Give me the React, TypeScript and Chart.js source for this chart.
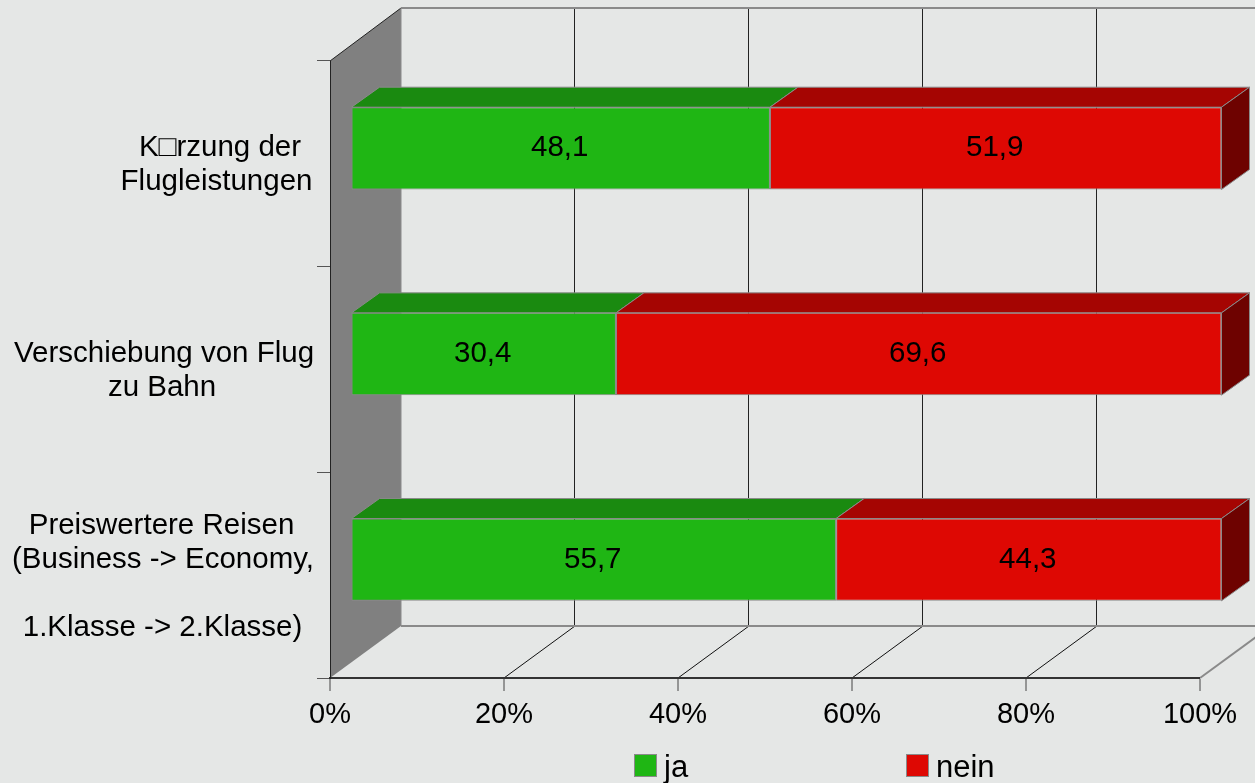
import React, { useEffect, useRef } from "react";
import { Chart, registerables } from "chart.js";

Chart.register(...registerables);

const categories: string[][] = [
  ["K\u25A1rzung der", "Flugleistungen"],
  ["Verschiebung von Flug", "zu Bahn"],
  ["Preiswertere Reisen", "(Business -> Economy,", "", "1.Klasse -> 2.Klasse)"],
];
const jaValues = [48.1, 30.4, 55.7];
const neinValues = [51.9, 69.6, 44.3];
const seriesNames = ["ja", "nein"];

const FONT = '"Liberation Sans", Arial, sans-serif';
const FS = 29.5;
const BG = "#E5E7E6";
const GREY = "#8A8A8A";
const FRONT = ["#1FB614", "#DE0803"];
const TOP = ["#1A8A10", "#A50502"];
const SIDE = "#6E0200";
const BACK = { x: 71, y: -53 };
const BAR_SHIFT = { x: 21.5, y: -15.5 };
const BAR_DEPTH = { x: 28, y: -20 };
const LABEL_X = [[220, 216.5], [164, 162], [161.5, 163, 162, 162.5]];
const LEGEND_X = [634, 906];

function line(ctx: CanvasRenderingContext2D, x1: number, y1: number, x2: number, y2: number, color: string, w: number) {
  ctx.strokeStyle = color;
  ctx.lineWidth = w;
  ctx.beginPath();
  ctx.moveTo(x1, y1);
  ctx.lineTo(x2, y2);
  ctx.stroke();
}

function poly(ctx: CanvasRenderingContext2D, pts: number[][], fill: string) {
  ctx.fillStyle = fill;
  ctx.strokeStyle = GREY;
  ctx.lineWidth = 1;
  ctx.beginPath();
  pts.forEach((p, i) => (i ? ctx.lineTo(p[0], p[1]) : ctx.moveTo(p[0], p[1])));
  ctx.closePath();
  ctx.fill();
  ctx.stroke();
}

const scene3d = {
  id: "scene3d",
  beforeDraw(chart: any) {
    const { ctx, chartArea: a, scales } = chart;
    ctx.save();
    ctx.fillStyle = BG;
    ctx.fillRect(0, 0, chart.width, chart.height);
    ctx.fillStyle = "#808080";
    ctx.beginPath();
    ctx.moveTo(a.left, a.top);
    ctx.lineTo(a.left + BACK.x, a.top + BACK.y);
    ctx.lineTo(a.left + BACK.x, a.bottom - 52);
    ctx.lineTo(a.left, a.bottom);
    ctx.closePath();
    ctx.fill();
    line(ctx, a.left, a.top, a.left + BACK.x, a.top + BACK.y, "#222", 1);
    for (const t of scales.x.ticks) {
      const x = scales.x.getPixelForValue(t.value);
      if (t.value > 0) {
        line(ctx, x + BACK.x - 0.5, a.top + BACK.y, x + BACK.x - 0.5, a.bottom - 52, "#222", 1);
        if (t.value < 100) line(ctx, x, a.bottom, x + BACK.x, a.bottom - 52, "#111", 1);
      }
    }
    line(ctx, a.left + BACK.x, a.top + BACK.y, chart.width, a.top + BACK.y, GREY, 2);
    line(ctx, a.left + BACK.x, a.bottom - 52, chart.width, a.bottom - 52, GREY, 2);
    line(ctx, a.left + BACK.x, a.top + BACK.y, a.left + BACK.x, a.bottom - 52, GREY, 1);
    line(ctx, a.right, a.bottom, a.right + BACK.x, a.bottom - 52, GREY, 2);
    ctx.restore();
  },
  beforeDatasetsDraw(chart: any) {
    const { ctx } = chart;
    ctx.save();
    ctx.translate(BAR_SHIFT.x, BAR_SHIFT.y);
    chart.data.datasets.forEach((_: any, di: number) => {
      chart.getDatasetMeta(di).data.forEach((el: any) => {
        const { x, y, base, height } = el.getProps(["x", "y", "base", "height"], true);
        const t = y - height / 2;
        const b = y + height / 2;
        const dx = BAR_DEPTH.x;
        const dy = BAR_DEPTH.y;
        poly(ctx, [[base, t], [x, t], [x + dx, t + dy], [base + dx, t + dy]], TOP[di]);
        if (di === chart.data.datasets.length - 1) {
          poly(ctx, [[x, t], [x + dx, t + dy], [x + dx, b + dy], [x, b]], SIDE);
        }
      });
    });
  },
  afterDatasetsDraw(chart: any) {
    const { ctx, scales } = chart;
    ctx.restore();
    ctx.save();
    ctx.fillStyle = "#000";
    ctx.font = `${FS}px ${FONT}`;
    ctx.textAlign = "center";
    ctx.textBaseline = "middle";
    chart.data.datasets.forEach((ds: any, di: number) => {
      chart.getDatasetMeta(di).data.forEach((el: any, i: number) => {
        const { x, y, base } = el.getProps(["x", "y", "base"], true);
        const text = ds.data[i].toFixed(1).replace(".", ",");
        ctx.fillText(text, (x + base) / 2 + BAR_SHIFT.x - 1, y + BAR_SHIFT.y);
      });
    });
    categories.forEach((lines, i) => {
      const cy = scales.y.getPixelForTick(i);
      const lh = 34;
      lines.forEach((l, k) => {
        ctx.fillText(l, LABEL_X[i][k], cy + 1.5 + (k - (lines.length - 1) / 2) * lh);
      });
    });
    ctx.textAlign = "left";
    ctx.textBaseline = "alphabetic";
    ctx.font = `31px ${FONT}`;
    chart.data.datasets.forEach((ds: any, di: number) => {
      const lx = LEGEND_X[di];
      ctx.fillStyle = ds.backgroundColor;
      ctx.strokeStyle = GREY;
      ctx.lineWidth = 1;
      ctx.fillRect(lx + 0.5, 754.5, 22, 22);
      ctx.strokeRect(lx + 0.5, 754.5, 22, 22);
      ctx.fillStyle = "#000";
      ctx.fillText(ds.label, lx + 30, 777);
    });
    ctx.restore();
  },
};

export default function App() {
  const ref = useRef<HTMLCanvasElement>(null);
  useEffect(() => {
    const chart = new Chart(ref.current as HTMLCanvasElement, {
      type: "bar",
      plugins: [scene3d],
      data: {
        labels: categories.map((c) => c.join(" ")),
        datasets: [
          { label: seriesNames[0], data: jaValues, backgroundColor: FRONT[0], borderColor: GREY, borderWidth: 1, borderSkipped: false },
          { label: seriesNames[1], data: neinValues, backgroundColor: FRONT[1], borderColor: GREY, borderWidth: 1, borderSkipped: false },
        ],
      },
      options: {
        indexAxis: "y",
        responsive: false,
        animation: false,
        maintainAspectRatio: false,
        layout: { padding: { left: 0, right: 55, top: 61, bottom: 0 } },
        plugins: { legend: { display: false }, tooltip: { enabled: false }, title: { display: false } },
        datasets: { bar: { barPercentage: 0.4, categoryPercentage: 1 } },
        scales: {
          x: {
            stacked: true,
            min: 0,
            max: 100,
            afterFit: (s: any) => { s.height = 105; },
            grid: { drawOnChartArea: false, drawTicks: true, tickLength: 13, lineWidth: 0, tickWidth: 1, color: "#444", tickColor: "#444" },
            border: { color: "#333", width: 2 },
            ticks: {
              stepSize: 20,
              maxRotation: 0,
              padding: 7,
              color: "#000",
              font: { family: FONT, size: 29 },
              callback: (v: any) => `${v}%`,
            },
          },
          y: {
            stacked: true,
            afterFit: (s: any) => { s.width = 330; },
            grid: { drawOnChartArea: false, drawTicks: true, tickLength: 13, color: "#555", tickColor: "#555" },
            border: { color: "#222", width: 1 },
            ticks: { display: false },
          },
        },
      } as any,
    });
    return () => chart.destroy();
  }, []);
  return (
    <div style={{ position: "absolute", left: 0, top: 0, width: 1255, height: 783, background: BG, overflow: "hidden" }}>
      <canvas ref={ref} width={1255} height={783} style={{ display: "block" }} />
    </div>
  );
}
